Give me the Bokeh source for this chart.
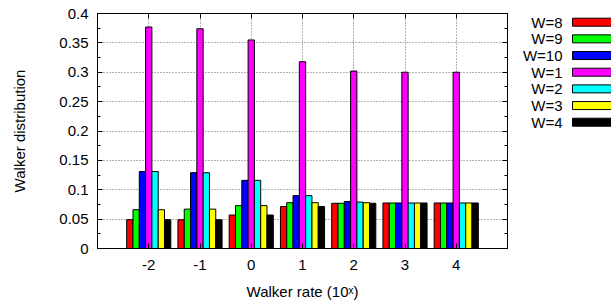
from bokeh.plotting import figure
from bokeh.models import Range1d, FixedTicker, LinearAxis, SingleIntervalTicker, CustomJSTickFormatter
from bokeh.layouts import row
from bokeh.embed import file_html
from bokeh.resources import INLINE
from bokeh.core.properties import value

rates = [-2, -1, 0, 1, 2, 3, 4]
series_names = ["W=8", "W=9", "W=10", "W=1", "W=2", "W=3", "W=4"]
colors = ["#ff0000", "#00ff00", "#0000ff", "#ff00ff", "#00ffff", "#ffff00", "#000000"]
w8 = [0.049, 0.049, 0.057, 0.0715, 0.077, 0.0775, 0.0775]
w9 = [0.066, 0.067, 0.073, 0.078, 0.077, 0.0775, 0.0775]
w10 = [0.131, 0.129, 0.116, 0.090, 0.080, 0.0775, 0.0775]
w1 = [0.377, 0.374, 0.355, 0.318, 0.302, 0.300, 0.300]
w2 = [0.131, 0.129, 0.116, 0.090, 0.079, 0.0775, 0.0775]
w3 = [0.066, 0.067, 0.073, 0.078, 0.078, 0.0775, 0.0775]
w4 = [0.049, 0.049, 0.057, 0.0715, 0.077, 0.0775, 0.0775]
series_values = [w8, w9, w10, w1, w2, w3, w4]
y_ticks_step = 0.05

FONT = "Liberation Sans"
FS = "15px"

p = figure(width=511, height=304, x_range=Range1d(-3, 5), y_range=Range1d(0, 0.4),
           output_backend="svg", toolbar_location=None,
           min_border_left=97, min_border_right=4, min_border_top=13, min_border_bottom=56)
p.background_fill_color = "white"
p.border_fill_color = "white"
p.outline_line_color = "black"
p.outline_line_width = 1

pitch = 0.123
n = len(series_values)
for i, (vals, col) in enumerate(zip(series_values, colors)):
    off = (i - (n - 1) / 2) * pitch
    p.vbar(x=[r + off for r in rates], top=vals, bottom=0, width=pitch,
           fill_color=col, line_color="black", line_width=1)

xt = FixedTicker(ticks=rates)
yt = SingleIntervalTicker(interval=y_ticks_step, num_minor_ticks=2)
yfmt = CustomJSTickFormatter(code="return tick.toFixed(2).replace(/0+$/,'').replace(/\\.$/,'')")
xfmt = CustomJSTickFormatter(code="return String(Math.round(tick))")
blank = CustomJSTickFormatter(code="return ''")

p.xaxis.ticker = xt
p.xaxis.formatter = xfmt
p.yaxis.ticker = yt
p.yaxis.formatter = yfmt
p.xaxis.minor_tick_line_color = None

for ax in p.axis:
    ax.major_tick_in = 5
    ax.major_tick_out = 0
    ax.minor_tick_in = 3
    ax.minor_tick_out = 0
    ax.axis_line_color = "black"
    ax.major_tick_line_color = "black"
    ax.major_label_text_font = FONT
    ax.major_label_text_font_size = FS
    ax.major_label_text_color = "black"
    ax.axis_label_text_font = FONT
    ax.axis_label_text_font_size = FS
    ax.axis_label_text_font_style = "normal"
    ax.axis_label_text_color = "black"

p.xaxis.major_label_standoff = 11
p.yaxis.major_label_standoff = 9
p.xaxis.axis_label = "Walker rate (10\u02e3)"
p.yaxis.axis_label = "Walker distribution"
p.xaxis.axis_label_standoff = 10
p.yaxis.axis_label_standoff = 28

ra = LinearAxis(ticker=yt, formatter=blank, major_tick_in=5, major_tick_out=0,
                minor_tick_in=3, minor_tick_out=0, major_label_standoff=0)
p.add_layout(ra, "right")
ta = LinearAxis(ticker=xt, formatter=blank, major_tick_in=5, major_tick_out=0,
                minor_tick_line_color=None, major_label_standoff=0)
p.add_layout(ta, "above")

p.xgrid.ticker = xt
p.ygrid.ticker = yt
for g in (p.xgrid, p.ygrid):
    g.grid_line_color = "#666666"
    g.grid_line_dash = "1 2"
    g.grid_line_width = 1

# legend panel (its frame is aligned with the main plot's frame by the row layout)
lf = figure(width=100, height=304, x_range=Range1d(0, 100), y_range=Range1d(248, 13),
            output_backend="svg", toolbar_location=None, min_border=0, title=None,
            x_axis_location=None, y_axis_location=None)
lf.outline_line_color = None
lf.xgrid.visible = False
lf.ygrid.visible = False
row_y = [21.7 + i * 16.67 for i in range(n)]
lf.text(x=[51] * n, y=row_y, text=series_names, text_align="right", text_baseline="middle",
        text_font=value(FONT), text_font_size=FS, text_color="black")
lf.quad(left=[61] * n, right=[110] * n, top=[y - 4 for y in row_y], bottom=[y + 4 for y in row_y],
        fill_color=colors, line_color="black", line_width=1)

layout = row(p, lf)
open("out.html", "w").write(file_html(layout, INLINE))
